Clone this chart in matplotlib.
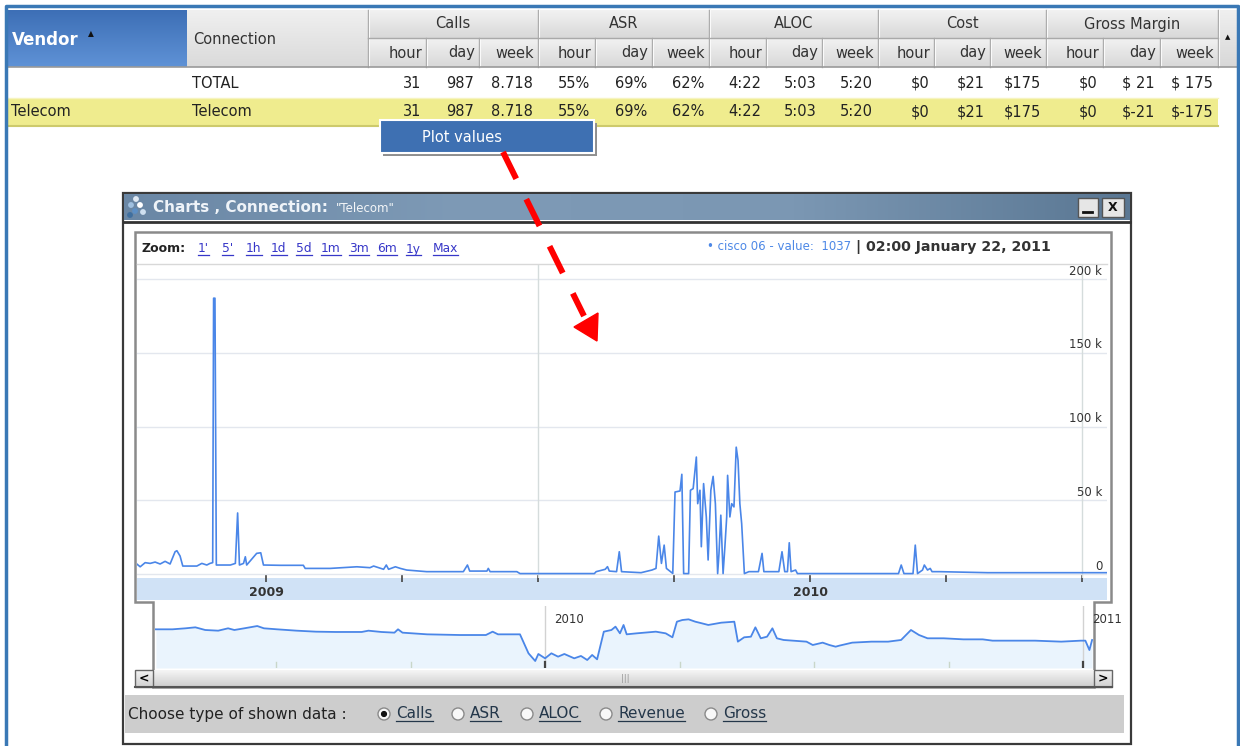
import numpy as np
import matplotlib.pyplot as plt
from matplotlib.patches import Rectangle, Polygon, Circle
from matplotlib.colors import to_rgb

W, H = 1240, 746

# ---- table content ----
groups = ['Calls', 'ASR', 'ALOC', 'Cost', 'Gross Margin']
sub_cols = ['hour', 'day', 'week']
total_row = ['31', '987', '8.718', '55%', '69%', '62%', '4:22', '5:03', '5:20',
             '$0', '$21', '$175', '$0', '$ 21', '$ 175']
telecom_row = ['31', '987', '8.718', '55%', '69%', '62%', '4:22', '5:03', '5:20',
               '$0', '$21', '$175', '$0', '$-21', '$-175']

# ---- main chart: calls (thousands), x = months since Jan 2009 ----
main_months = [-2.87, -2.78, -2.67, -2.56, -2.45, -2.34, -2.23, -2.12, -2.01, -1.97,
               -1.90, -1.84, -1.53, -1.42, -1.31, -1.24, -1.18, -1.16, -1.13, -1.10,
               -0.79, -0.68, -0.63, -0.59, -0.50, -0.46, -0.43, -0.21, -0.12, -0.06,
               0.31, 0.82, 0.86, 1.41, 2.00, 2.29, 2.37, 2.59, 2.65, 2.70,
               2.85, 2.96, 3.10, 3.54, 4.35, 4.44, 4.49, 4.87, 4.90, 4.94,
               5.53, 5.60, 6.04, 7.24, 7.28, 7.48, 7.53, 7.57, 7.73, 7.79,
               7.84, 8.27, 8.51, 8.60, 8.66, 8.72, 8.78, 8.83, 8.97, 9.02,
               9.13, 9.17, 9.21, 9.32, 9.36, 9.42, 9.49, 9.52, 9.57, 9.60,
               9.65, 9.71, 9.75, 9.81, 9.86, 9.91, 9.96, 9.99, 10.03, 10.08,
               10.12, 10.16, 10.18, 10.23, 10.27, 10.32, 10.37, 10.41, 10.45, 10.49,
               10.55, 10.65, 10.86, 10.94, 10.98, 11.31, 11.38, 11.44, 11.50, 11.54,
               11.58, 11.68, 11.72, 11.97, 13.95, 14.01, 14.07, 14.27, 14.32, 14.37,
               14.48, 14.52, 14.59, 14.65, 14.69, 14.85, 15.92, 18.55]
main_calls = [7.2, 4.9, 7.7, 7.2, 8.1, 6.8, 8.6, 6.8, 15.1, 15.8,
              12.2, 5.4, 5.4, 7.2, 6.1, 7.2, 7.7, 187, 187, 6.1,
              6.1, 7.2, 41.4, 6.1, 7.2, 11.7, 6.1, 14.0, 14.4, 6.1,
              5.9, 5.9, 3.8, 3.8, 4.9, 4.3, 5.4, 3.2, 6.1, 3.2,
              4.9, 3.8, 2.7, 1.6, 1.6, 6.1, 2.0, 2.0, 3.8, 1.6,
              1.6, 0.3, 0.3, 0.3, 1.6, 3.2, 5.0, 2.0, 1.6, 15.1,
              1.6, 0.9, 2.7, 3.8, 25.7, 7.2, 19.6, 3.8, 0.4, 55.6,
              56.3, 67.6, 0.3, 0.3, 56.8, 57.9, 79.3, 47.7, 56.8, 18.5,
              61.3, 38.7, 9.5, 56.8, 66.2, 47.7, 0.3, 14.0, 39.9, 0.3,
              18.5, 38.7, 66.9, 38.7, 47.7, 45.5, 86.0, 77.0, 47.7, 34.2,
              0.3, 1.6, 1.6, 14.0, 1.6, 1.6, 15.1, 1.6, 1.6, 21.2,
              1.6, 2.7, 0.3, 0.3, 0.3, 6.1, 0.3, 0.3, 19.6, 0.3,
              2.7, 6.1, 2.7, 3.8, 1.6, 1.6, 0.9, 0.9]
y_ticks = [0, 50, 100, 150, 200]
y_labels = ['0', '50 k', '100 k', '150 k', '200 k']
main_ticks = [0, 3, 6, 9, 12, 15, 18]
main_tick_labels = ['2009', '', '', '', '2010', '', '']

# ---- navigator overview: relative level, x = months since Jan 2010 ----
nav_months = [-8.68, -8.31, -8.02, -7.80, -7.58, -7.29, -7.07, -6.93, -6.71, -6.42,
              -6.27, -5.98, -5.54, -5.11, -4.67, -4.09, -3.94, -3.65, -3.36, -3.28,
              -3.18, -2.63, -1.90, -1.32, -1.17, -1.05, -0.56, -0.37, -0.22, -0.15,
              0.00, 0.14, 0.29, 0.43, 0.65, 0.80, 0.94, 1.05, 1.16, 1.31,
              1.48, 1.57, 1.67, 1.75, 1.82, 2.04, 2.47, 2.69, 2.84, 2.94,
              3.06, 3.20, 3.35, 3.50, 3.64, 3.93, 4.22, 4.30, 4.44, 4.59,
              4.69, 4.81, 4.95, 5.07, 5.17, 5.32, 5.83, 5.97, 6.19, 6.34,
              6.48, 6.56, 6.85, 7.28, 7.65, 7.94, 8.16, 8.34, 8.53, 8.89,
              9.33, 9.76, 9.98, 10.35, 10.93, 11.51, 11.95, 12.05, 12.14, 12.20]
nav_level = [62.4, 62.4, 64.0, 65.6, 61.3, 60.2, 64.0, 61.3, 64.0, 67.7,
             64.0, 62.4, 60.2, 58.6, 58.1, 58.1, 60.2, 58.1, 57.0, 62.4,
             57.0, 54.3, 53.2, 53.2, 58.6, 54.3, 54.3, 23.7, 11.3, 22.6,
             15.6, 23.7, 18.3, 22.6, 15.6, 19.4, 12.9, 21.0, 14.0, 58.6,
             61.3, 66.7, 55.9, 69.4, 54.3, 55.9, 58.6, 55.9, 49.5, 74.7,
             77.4, 78.5, 74.7, 72.0, 69.4, 73.1, 74.7, 42.5, 49.5, 50.5,
             65.6, 47.9, 50.5, 64.0, 47.9, 45.2, 42.5, 37.1, 40.9, 37.1,
             34.4, 36.0, 40.9, 42.5, 42.5, 45.2, 61.3, 53.2, 47.9, 47.9,
             46.2, 46.2, 44.1, 44.1, 44.1, 42.5, 44.1, 44.1, 29.0, 45.2]
nav_year_ticks = [0, 12]
nav_year_labels = ['2010', '2011']
nav_minor = [-6, -3, 3, 6, 9]

zoom_links = ["1'", "5'", "1h", "1d", "5d", "1m", "3m", "6m", "1y", "Max"]
data_types = ['Calls', 'ASR', 'ALOC', 'Revenue', 'Gross']

LINE = '#4a86e8'

fig = plt.figure(figsize=(W / 100, H / 100), dpi=100)
ui = fig.add_axes([0, 0, 1, 1])
ui.axis('off')


def box(x0, y0, x1, y1, fc='none', ec='none', lw=1, z=1, ax=ui):
    ax.add_patch(Rectangle((x0, y0), x1 - x0, y1 - y0, facecolor=fc,
                           edgecolor=ec, linewidth=lw, zorder=z))


def vgrad(x0, y0, x1, y1, c0, c1, z=1, ax=ui):
    t = np.linspace(0, 1, 64)[:, None, None]
    img = (1 - t) * np.array(to_rgb(c0)) + t * np.array(to_rgb(c1))
    ax.imshow(img, extent=(x0, x1, y1, y0), aspect='auto', zorder=z,
              interpolation='bilinear')


def hgrad(x0, y0, x1, y1, colors, z=1, ax=ui):
    t = np.linspace(0, 1, 256)
    pts = np.linspace(0, 1, len(colors))
    rgb = np.array([to_rgb(c) for c in colors])
    img = np.stack([np.interp(t, pts, rgb[:, k]) for k in range(3)], axis=-1)[None]
    ax.imshow(img, extent=(x0, x1, y1, y0), aspect='auto', zorder=z,
              interpolation='bilinear')


underline = []

# ---------------- grid / table ----------------
ui.plot([6, 6, 1238, 1238], [H, 6, 6, H], color='#3a78b5', lw=2.5, zorder=3)

hy0, hy1, hy2 = 10, 38, 67
col_edges = [368, 426, 479, 538, 595, 652, 709, 766, 822, 878, 934, 990,
             1046, 1103, 1160, 1218]

vgrad(8, hy0, 187, hy2, '#3d6fb6', '#5f92d6')
vgrad(187, hy0, 368, hy2, '#f0f0f0', '#dadada')
for g in range(5):
    xa, xb = col_edges[g * 3], col_edges[g * 3 + 3]
    vgrad(xa, hy0, xb, hy1, '#f2f2f2', '#d8d8d8')
    ui.text((xa + xb) / 2, 24, groups[g], ha='center', va='center',
            fontsize=10.5, color='#333')
    for s in range(3):
        ca, cb = col_edges[g * 3 + s], col_edges[g * 3 + s + 1]
        vgrad(ca, hy1, cb, hy2, '#f2f2f2', '#d8d8d8')
        ui.text(cb - 4, 53, sub_cols[s], ha='right', va='center',
                fontsize=10.5, color='#333')
vgrad(1218, hy0, 1238, hy2, '#efefef', '#d8d8d8')
ui.text(1228, 37, '▲', ha='center', va='center', fontsize=5, color='#111')

for i, xe in enumerate(col_edges):
    top = hy0 if i % 3 == 0 else hy1
    ui.plot([xe, xe], [top, hy2], color='#a9a9a9', lw=1, zorder=2)
    ui.plot([xe + 1, xe + 1], [top, hy2], color='#fafafa', lw=0.8, zorder=2)
ui.plot([368, 1218], [hy1, hy1], color='#a9a9a9', lw=1, zorder=2)
ui.plot([8, 1238], [hy2, hy2], color='#9a9a9a', lw=1.2, zorder=2)

ui.text(12, 40, 'Vendor', color='white', fontsize=12, fontweight='bold', va='center')
ui.text(91, 34, '▲', fontsize=5.5, color='#111', va='center', ha='center')
ui.text(193, 39, 'Connection', fontsize=10.5, color='#333', va='center')

# rows
box(8, 98, 1218, 126, fc='#efec8e', z=1)
ui.plot([8, 1218], [126, 126], color='#cdca6c', lw=1.5, zorder=2)
ui.plot([8, 1218], [98, 98], color='#f6f4c0', lw=1, zorder=2)
ui.text(192, 83, 'TOTAL', fontsize=10.5, color='#222', va='center')
ui.text(11, 112, 'Telecom', fontsize=10.5, color='#222', va='center')
ui.text(192, 112, 'Telecom', fontsize=10.5, color='#222', va='center')
for j in range(15):
    xr = col_edges[j + 1] - 5
    ui.text(xr, 83, total_row[j], ha='right', va='center', fontsize=10.5, color='#222')
    ui.text(xr, 112, telecom_row[j], ha='right', va='center', fontsize=10.5, color='#222')

# context menu
box(383, 123, 597, 156, fc='#8f8f8f', z=3)
box(380, 120, 594, 153, fc='#3e70b2', ec='white', lw=1.5, z=4)
ui.text(422, 137, 'Plot values', color='white', fontsize=10.5, va='center', zorder=5)

# ---------------- chart window ----------------
box(123, 193, 1131, 744, fc='white', ec='#3a3a3a', lw=1.6, z=1)
hgrad(124, 194, 1130, 220, ['#6a87a5', '#7e9ab6', '#7b97b3', '#5a7793'], z=2)
ui.plot([124, 1130], [222, 222], color='#333', lw=2, zorder=2)
for (dx, dy, c) in [(136, 199, '#dfe9f3'), (131, 205, '#9fc0e0'), (140, 205, '#ffffff'),
                    (135, 211, '#5d8fc4'), (143, 212, '#cfe0f0'), (130, 215, '#3f6f9f')]:
    ui.add_patch(Circle((dx, dy), 2.2, color=c, zorder=3))
ui.text(153, 207, 'Charts , Connection:', color='#eef3f8', fontsize=11,
        fontweight='bold', va='center', zorder=3)
ui.text(336, 208, '"Telecom"', color='#f4f6f8', fontsize=8.5, va='center', zorder=3)
box(1078, 198, 1098, 217, fc='#e6e6e6', ec='#555', lw=1, z=3)
box(1102, 198, 1124, 217, fc='#e6e6e6', ec='#555', lw=1, z=3)
ui.plot([1083, 1092], [212, 212], color='#111', lw=2, zorder=4)
ui.text(1113, 207.5, 'X', ha='center', va='center', fontsize=9, fontweight='bold',
        color='#111', zorder=4)

# chart frame with stepped navigator outline
frame = [(135, 232), (1111, 232), (1111, 602), (1094, 602), (1094, 687),
         (153, 687), (153, 602), (135, 602)]
ui.add_patch(Polygon(frame, closed=True, facecolor='white', edgecolor='#8a8a8a',
                     lw=1.8, zorder=2))

ui.text(141, 249, 'Zoom:', fontsize=9, fontweight='bold', color='#222', va='center', zorder=3)
link_x = [198, 222, 246, 271, 296, 321, 349, 377, 406, 433]
for lx, lab in zip(link_x, zoom_links):
    t = ui.text(lx, 249, lab, fontsize=8.8, color='#3737c8', va='center', zorder=3)
    underline.append((t, '#3737c8'))
ui.text(851, 247, '\u2022 cisco 06 - value:  1037', fontsize=8.5, color='#4d88e6',
        ha='right', va='center', zorder=3)
ui.text(856, 247, '| 02:00 January 22, 2011', fontsize=10.2, fontweight='bold',
        color='#333', ha='left', va='center', zorder=3)
ui.plot([137, 1107], [264, 264], color='#d8d8d8', lw=1, zorder=3)

# x band
box(137, 578, 1107, 600, fc='#d0e2f6', z=3)

# scrollbar
vgrad(153, 670, 1094, 687, '#f6f6f6', '#cdcdcd', z=3)
ui.text(625, 678.5, '|||', ha='center', va='center', fontsize=6, color='#999', zorder=4)
vgrad(135, 670, 153, 687, '#f4f4f4', '#d0d0d0', z=3)
vgrad(1094, 670, 1112, 687, '#f4f4f4', '#d0d0d0', z=3)
box(135, 670, 153, 687, ec='#666', lw=1, z=4)
box(1094, 670, 1112, 687, ec='#666', lw=1, z=4)
ui.text(144, 678.5, '<', ha='center', va='center', fontsize=9, fontweight='bold', zorder=5)
ui.text(1103, 678.5, '>', ha='center', va='center', fontsize=9, fontweight='bold', zorder=5)
ui.plot([135, 1112], [687, 687], color='#555', lw=1.5, zorder=4)

# radio bar
box(125, 695, 1124, 733, fc='#cdcdcd', z=2)
ui.text(128, 714, 'Choose type of shown data :', fontsize=11, color='#222',
        va='center', zorder=3)
radio_x = [384, 458, 527, 606, 711]
for k, (rx, lab) in enumerate(zip(radio_x, data_types)):
    ui.add_patch(Circle((rx, 714), 6, facecolor='#f8f8f8', edgecolor='#8a8a8a',
                        lw=1, zorder=3))
    if k == 0:
        ui.add_patch(Circle((rx, 714), 2.4, color='#111', zorder=4))
    t = ui.text(rx + 12, 714, lab, fontsize=11, color='#24374a', va='center', zorder=3)
    underline.append((t, '#24374a'))

ui.set_xlim(0, W)
ui.set_ylim(H, 0)

# ---------------- main plot ----------------
ax = fig.add_axes([137 / W, (H - 578) / H, 970 / W, 313 / H])
ax.set_facecolor('none')
for sp in ax.spines.values():
    sp.set_visible(False)
ax.set_xlim(-2.85, 18.55)
ax.set_ylim(-2.7, 209.5)
ax.set_yticks(y_ticks)
ax.grid(axis='y', color='#e3e7ee', lw=1)
ax.axvline(6, color='#d5dcdc', lw=1)
ax.axvline(18, color='#d5dcdc', lw=1)
ax.plot(main_months, main_calls, color=LINE, lw=1.2, zorder=3)
ax.tick_params(axis='y', left=False, labelleft=False)
ax.set_xticks(main_ticks)
ax.set_xticklabels(main_tick_labels)
ax.tick_params(axis='x', direction='inout', length=6, width=1.2, color='#444',
               pad=3, labelsize=9, labelcolor='#333')
for lbl in ax.get_xticklabels():
    lbl.set_fontweight('bold')
for v, lab in zip(y_ticks, y_labels):
    ax.annotate(lab, xy=(0.995, v), xycoords=('axes fraction', 'data'),
                xytext=(0, 8), textcoords='offset pixels', ha='right', va='center',
                fontsize=8.5, color='#333')

# ---------------- navigator ----------------
nav = fig.add_axes([155 / W, (H - 668) / H, 938 / W, 62 / H])
nav.set_facecolor('none')
for sp in nav.spines.values():
    sp.set_visible(False)
nav.set_xlim(-8.70, 12.22)
nav.set_ylim(0, 100)
nav.set_xticks([])
nav.set_yticks([])
nav.fill_between(nav_months, nav_level, 0, color='#eaf4fd', lw=0)
for m in nav_year_ticks:
    nav.axvline(m, color='#d2d2d2', lw=1)
    nav.plot([m, m], [0, 9], color='#444', lw=1.6)
for m in nav_minor:
    nav.plot([m, m], [0, 9], color='#c9d6c9', lw=1)
nav.plot(nav_months, nav_level, color=LINE, lw=1.3)
for m, lab in zip(nav_year_ticks, nav_year_labels):
    nav.text(m + 0.2, 78, lab, fontsize=8.5, color='#333', va='center')

# ---------------- red dashed arrow on top ----------------
topax = fig.add_axes([0, 0, 1, 1], zorder=10)
topax.set_facecolor('none')
topax.axis('off')
topax.set_xlim(0, W)
topax.set_ylim(H, 0)
topax.plot([503, 584], [152, 316], color='#ff0000', lw=4.3, dashes=(5, 3.8),
           dash_capstyle='butt')
topax.add_patch(Polygon([(574, 327), (598, 313), (597, 341)], closed=True,
                        color='#ff0000'))

# underlines for link-like texts
fig.canvas.draw()
rend = fig.canvas.get_renderer()
inv = ui.transData.inverted()
for t, c in underline:
    bb = t.get_window_extent(rend)
    (x0, y0), (x1, y1) = inv.transform([(bb.x0, bb.y0), (bb.x1, bb.y1)])
    ui.plot([x0, x1], [y0 - 1, y0 - 1], color=c, lw=0.9, zorder=4)
ui.set_xlim(0, W)
ui.set_ylim(H, 0)

fig.savefig('out.png', dpi=100)
